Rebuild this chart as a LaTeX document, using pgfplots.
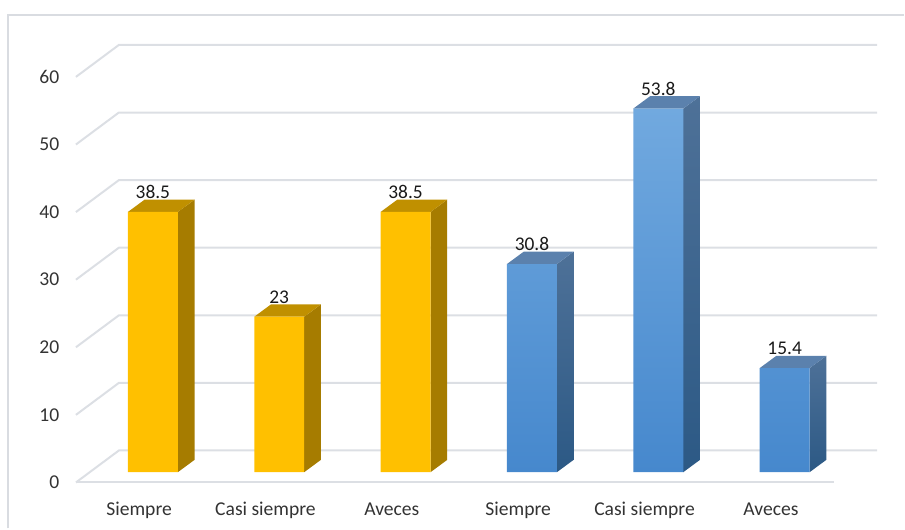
\documentclass[border=0pt]{standalone}
\usepackage{fontspec}
\setmainfont{Carlito}
\usepackage{pgfplots}
\usepackage{pgfplotstable}
\pgfplotsset{compat=1.18}

\definecolor{gridc}{HTML}{DCDFE4}
\definecolor{framec}{HTML}{D9DCE1}
\definecolor{yfront}{HTML}{FFC000}
\definecolor{ysidec}{HTML}{A67C00}
\definecolor{ytopc}{HTML}{C09000}
\definecolor{bfronttop}{HTML}{71A9DF}
\definecolor{bfrontbot}{HTML}{4688CD}
\definecolor{bsidetop}{HTML}{4E7198}
\definecolor{bsidebot}{HTML}{2C5985}
\definecolor{btopc}{HTML}{5B81AD}

% values, bars at x = 0..5 (bar front plane)
\pgfplotstableread{
x v
0 38.5
1 23
2 38.5
}\yellowdata
\pgfplotstableread{
x v
3 30.8
4 53.8
5 15.4
}\bluedata

\pgfplotsset{
  yellowside/.style={forget plot, draw=none, fill=ysidec},
  yellowtop/.style={forget plot, draw=none, fill=ytopc},
  blueside/.style={forget plot, draw=none, top color=bsidetop, bottom color=bsidebot},
  bluetop/.style={forget plot, draw=none, fill=btopc},
}

% back wall gridline: front edge, left wall diagonal, back line
\newcommand\gridline[1]{%
  \pgfmathsetmacro\ya{#1-1.52}\pgfmathsetmacro\yb{#1+3.21}%
  \edef\tmp{\noexpand\addplot[gridc, line width=1pt, forget plot]
    coordinates {(-0.609,\ya) (-0.269,\yb) (5.731,\yb)};}\tmp}

% side and top face of one bar: table, row, side style, top style
\newcommand\barfaces[4]{%
  \pgfplotstablegetelem{#2}{x}\of#1\let\bx\pgfplotsretval
  \pgfplotstablegetelem{#2}{v}\of#1\let\bv\pgfplotsretval
  \pgfmathsetmacro\xl{\bx-0.1975}\pgfmathsetmacro\xr{\bx+0.1975}%
  \pgfmathsetmacro\xlb{\bx-0.1975+0.132}\pgfmathsetmacro\xrb{\bx+0.1975+0.132}%
  \pgfmathsetmacro\vt{\bv+1.82}%
  \edef\tmp{\noexpand\addplot[#3] coordinates {(\xr,0) (\xrb,1.82) (\xrb,\vt) (\xr,\bv)};
    \noexpand\addplot[#4] coordinates {(\xl,\bv) (\xlb,\vt) (\xrb,\vt) (\xr,\bv)};}\tmp}

\begin{document}
\begin{tikzpicture}
\begin{axis}[
  width=401pt, height=219pt, scale only axis,
  xmin=-0.609, xmax=5.731, ymin=-1.52, ymax=63.21,
  clip=false,
  /pgf/number format/assume math mode=true,
  axis line style={draw=none}, tick style={draw=none},
  xtick={-0.109,0.891,1.891,2.891,3.891,4.891},
  xticklabels={Siempre, Casi siempre, Aveces, Siempre, Casi siempre, Aveces},
  ytick={-1.52,8.48,18.48,28.48,38.48,48.48,58.48},
  yticklabels={0,10,20,30,40,50,60},
  ticklabel style={font=\fontsize{9.8}{11}\selectfont, text=black!80},
  xticklabel style={yshift=-6.5pt},
  yticklabel style={xshift=-4.8pt},
  every node near coord/.append style={font=\fontsize{9.7}{11}\selectfont,
    text=black!90, inner sep=0pt, yshift=6.4pt},
]
\pgfplotsinvokeforeach{0,10,20,30,40,50,60}{\gridline{#1}}
\addplot[gridc, line width=1pt, forget plot] coordinates {(-0.609,-1.52) (5.391,-1.52)};

\pgfplotsinvokeforeach{0,1,2}{\barfaces{\yellowdata}{#1}{yellowside}{yellowtop}}
\pgfplotsinvokeforeach{0,1,2}{\barfaces{\bluedata}{#1}{blueside}{bluetop}}

\addplot[ybar, bar width=0.395, bar shift=0pt, draw=none, fill=yfront,
  nodes near coords] table[x=x, y=v] {\yellowdata};
\addplot[ybar, bar width=0.395, bar shift=0pt, draw=none,
  top color=bfronttop, bottom color=bfrontbot,
  nodes near coords] table[x=x, y=v] {\bluedata};
\end{axis}
\draw[framec, line width=1pt]
  ([xshift=-34pt,yshift=-23pt]current axis.south west)
  -- ([xshift=-34pt,yshift=15pt]current axis.north west)
  -- ([xshift=13.5pt,yshift=15pt]current axis.north east);
\path ([xshift=-38pt,yshift=-23pt]current axis.south west)
  rectangle ([xshift=13.5pt,yshift=22.5pt]current axis.north east);
\end{tikzpicture}
\end{document}
